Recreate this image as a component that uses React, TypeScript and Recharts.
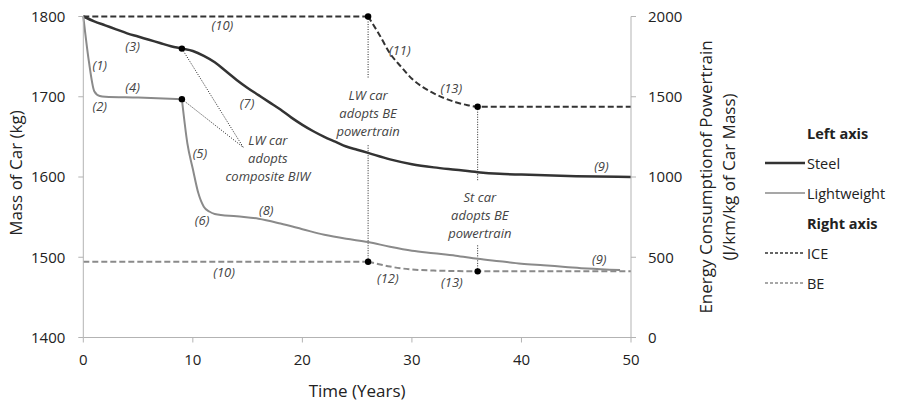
import React from 'react';
import { ComposedChart, Line, XAxis, YAxis, ReferenceLine, ReferenceDot, Label } from 'recharts';

// time axis (years) and the two value axes
const xTicks = [0, 10, 20, 30, 40, 50];
const massTicks = [1400, 1500, 1600, 1700, 1800];
const energyTicks = [0, 500, 1000, 1500, 2000];

// Steel car mass (kg)
const steelYears = [0, 1, 2, 3, 4, 5, 6, 7, 8, 9, 10, 11, 12, 13, 14, 15, 16, 17, 18, 19, 20, 21, 22, 23, 24, 25, 26, 28, 30, 32, 34, 36, 38, 40, 45, 50];
const steelMass = [1800, 1794, 1789, 1784, 1779, 1775, 1771, 1767, 1763, 1760, 1757, 1751, 1743, 1732, 1721, 1711, 1702, 1693, 1684, 1674, 1665, 1657, 1650, 1644, 1638, 1634, 1630, 1622, 1616, 1612, 1609, 1606, 1604, 1603, 1601, 1600];

// Lightweight car mass (kg), before and after the composite BIW step
const lwEarlyYears = [0, 0.5, 1, 1.5, 2, 5, 9];
const lwEarlyMass = [1800, 1745, 1707, 1701, 1700, 1699, 1697];
const lwLateYears = [9, 9.5, 10, 10.5, 11, 11.5, 12, 14, 16, 18, 20, 22, 24, 26, 28, 30, 32, 34, 36, 38, 40, 42, 44, 46, 49];
const lwLateMass = [1697, 1642, 1610, 1580, 1563, 1557, 1554, 1551, 1548, 1542, 1535, 1528, 1523, 1519, 1513, 1508, 1505, 1502, 1498, 1495, 1492, 1490, 1488, 1486, 1484];

// Powertrain energy consumption (J/km/kg)
const iceFlatYears = [0, 26];
const iceFlatEnergy = [2000, 2000];
const iceDropYears = [26, 27, 28, 29, 30, 31, 32, 33, 34, 35, 36, 50];
const iceDropEnergy = [2000, 1890, 1770, 1688, 1612, 1560, 1521, 1490, 1466, 1449, 1438, 1438];
const beFlatYears = [0, 26];
const beFlatEnergy = [472, 472];
const beDropYears = [26, 27, 28, 29, 30, 32, 34, 36, 50];
const beDropEnergy = [472, 457, 442, 431, 424, 417, 414, 412, 412];

// event markers
const massDots = [{ x: 9, y: 1760 }, { x: 9, y: 1697 }];
const energyDots = [{ x: 26, y: 2000 }, { x: 36, y: 1438 }, { x: 26, y: 472 }, { x: 36, y: 412 }];

const zip = (xs: number[], ys: number[]) => xs.map((x, i) => ({ x, y: ys[i] }));

// numbered notes, placed in data coordinates (left axis)
const notes = [
  { t: '(1)', x: 1.5, y: 1740 },
  { t: '(2)', x: 1.5, y: 1688 },
  { t: '(3)', x: 4.5, y: 1763 },
  { t: '(4)', x: 4.5, y: 1712 },
  { t: '(5)', x: 10.65, y: 1630 },
  { t: '(6)', x: 10.85, y: 1546 },
  { t: '(7)', x: 14.95, y: 1692 },
  { t: '(8)', x: 16.7, y: 1559 },
  { t: '(9)', x: 47.3, y: 1614 },
  { t: '(9)', x: 47.1, y: 1498 },
  { t: '(10)', x: 12.7, y: 1789 },
  { t: '(10)', x: 12.85, y: 1482 },
  { t: '(11)', x: 28.9, y: 1758 },
  { t: '(12)', x: 27.8, y: 1474 },
  { t: '(13)', x: 33.6, y: 1711 },
  { t: '(13)', x: 33.65, y: 1469 },
];

const callouts = [
  { lines: ['LW car', 'adopts', 'composite BIW'], x: 16.85, y: 1646 },
  { lines: ['LW car', 'adopts BE', 'powertrain'], x: 26, y: 1702 },
  { lines: ['St car', 'adopts BE', 'powertrain'], x: 36.2, y: 1575 },
];

const FONT = '"Open Sans", sans-serif';
const AXIS = '#b3b3b3';

const NoteShape = ({ cx, cy, text }: any) => (
  <text x={cx} y={cy} textAnchor="middle" dominantBaseline="central" fontSize={13} fontStyle="italic" fill="#444" fontFamily={FONT}>
    {text}
  </text>
);

const CalloutShape = ({ cx, cy, lines }: any) => (
  <text x={cx} y={cy} textAnchor="middle" dominantBaseline="central" fontSize={13} fontStyle="italic" fill="#444" fontFamily={FONT}>
    {lines.map((l: string, i: number) => (
      <tspan key={i} x={cx} dy={i === 0 ? 0 : 17.8}>{l}</tspan>
    ))}
  </text>
);

const DotShape = ({ cx, cy }: any) => <circle cx={cx} cy={cy} r={3.2} fill="#000" />;

const leftTitle = ({ viewBox }: any) => {
  const x = viewBox.x + 15;
  const y = viewBox.y + viewBox.height / 2 - 4;
  return (
    <text x={x} y={y} transform={`rotate(-90, ${x}, ${y})`} textAnchor="middle" dominantBaseline="central" fontSize={17} fill="#222" fontFamily={FONT}>
      Mass of Car (kg)
    </text>
  );
};

const rightTitle = ({ viewBox }: any) => {
  const y = viewBox.y + viewBox.height / 2;
  const x1 = viewBox.x + 74;
  const x2 = viewBox.x + 97;
  return (
    <g fontSize={17} fill="#222" fontFamily={FONT}>
      <text x={x1} y={y} transform={`rotate(-90, ${x1}, ${y})`} textAnchor="middle" dominantBaseline="central">
        Energy Consumptionof Powertrain
      </text>
      <text x={x2} y={y} transform={`rotate(-90, ${x2}, ${y})`} textAnchor="middle" dominantBaseline="central">
        (J/km/kg of Car Mass)
      </text>
    </g>
  );
};

const bottomTitle = ({ viewBox }: any) => (
  <text x={viewBox.x + viewBox.width / 2} y={viewBox.y + 52.5} textAnchor="middle" dominantBaseline="central" fontSize={17} fill="#222" fontFamily={FONT}>
    Time (Years)
  </text>
);

const legendItems = [
  { kind: 'head', label: 'Left axis' },
  { kind: 'line', label: 'Steel', color: '#333', width: 2.5, dash: undefined },
  { kind: 'line', label: 'Lightweight', color: '#8a8a8a', width: 1.5, dash: undefined },
  { kind: 'head', label: 'Right axis' },
  { kind: 'line', label: 'ICE', color: '#333', width: 1.5, dash: '3 2' },
  { kind: 'line', label: 'BE', color: '#8a8a8a', width: 1.5, dash: '3 2' },
];

const LegendBox = () => (
  <svg width={899} height={401} style={{ position: 'absolute', left: 0, top: 0, pointerEvents: 'none' }}>
    {legendItems.map((it, i) => {
      const y = 133 + i * 30;
      return (
        <g key={i} fontFamily={FONT} fontSize={14.5} fill="#222">
          {it.kind === 'line' && (
            <line x1={765} x2={805} y1={y} y2={y} stroke={it.color} strokeWidth={it.width} strokeDasharray={it.dash} />
          )}
          <text x={807} y={y} dominantBaseline="central" fontWeight={it.kind === 'head' ? 700 : 400}>
            {it.label}
          </text>
        </g>
      );
    })}
  </svg>
);

const dotted = { stroke: '#222', strokeWidth: 1, strokeDasharray: '1 1.5' };

export default function App() {
  return (
    <div style={{ position: 'absolute', left: 0, top: 0, width: 899, height: 401, background: '#fff' }}>
      <ComposedChart width={899} height={401} margin={{ top: 16.5, right: 188, bottom: 0, left: 0 }}>
        <XAxis
          type="number"
          dataKey="x"
          domain={[0, 50]}
          ticks={xTicks}
          height={63.5}
          stroke={AXIS}
          tickSize={5}
          tickMargin={12}
          tick={{ fill: '#222', fontSize: 15, fontFamily: FONT }}
        >
          <Label content={bottomTitle} />
        </XAxis>
        <YAxis
          yAxisId="left"
          type="number"
          domain={[1400, 1800]}
          ticks={massTicks}
          width={83.3}
          stroke={AXIS}
          tickSize={5}
          tickMargin={13}
          tick={{ fill: '#222', fontSize: 15, fontFamily: FONT }}
        >
          <Label content={leftTitle} />
        </YAxis>
        <YAxis
          yAxisId="right"
          orientation="right"
          type="number"
          domain={[0, 2000]}
          ticks={energyTicks}
          width={80}
          stroke={AXIS}
          tickSize={5}
          tickMargin={12}
          tick={{ fill: '#222', fontSize: 15, fontFamily: FONT }}
        >
          <Label content={rightTitle} />
        </YAxis>

        {/* callout leader lines */}
        <ReferenceLine yAxisId="left" segment={[{ x: 9, y: 1760 }, { x: 14.6, y: 1637 }]} {...dotted} />
        <ReferenceLine yAxisId="left" segment={[{ x: 9, y: 1697 }, { x: 14.6, y: 1637 }]} {...dotted} />
        <ReferenceLine yAxisId="right" segment={[{ x: 26, y: 2000 }, { x: 26, y: 1616 }]} {...dotted} />
        <ReferenceLine yAxisId="right" segment={[{ x: 26, y: 1198 }, { x: 26, y: 472 }]} {...dotted} />
        <ReferenceLine yAxisId="right" segment={[{ x: 36, y: 1438 }, { x: 36, y: 980 }]} {...dotted} />
        <ReferenceLine yAxisId="right" segment={[{ x: 36, y: 574 }, { x: 36, y: 412 }]} {...dotted} />

        <Line yAxisId="right" data={zip(iceFlatYears, iceFlatEnergy)} dataKey="y" type="linear" stroke="#333" strokeWidth={2} strokeDasharray="6 3" dot={false} activeDot={false} isAnimationActive={false} />
        <Line yAxisId="right" data={zip(iceDropYears, iceDropEnergy)} dataKey="y" type="monotone" stroke="#333" strokeWidth={2} strokeDasharray="6 3" dot={false} activeDot={false} isAnimationActive={false} />
        <Line yAxisId="right" data={zip(beFlatYears, beFlatEnergy)} dataKey="y" type="linear" stroke="#8a8a8a" strokeWidth={2} strokeDasharray="6 3" dot={false} activeDot={false} isAnimationActive={false} />
        <Line yAxisId="right" data={zip(beDropYears, beDropEnergy)} dataKey="y" type="monotone" stroke="#8a8a8a" strokeWidth={2} strokeDasharray="6 3" dot={false} activeDot={false} isAnimationActive={false} />

        <Line yAxisId="left" data={zip(steelYears, steelMass)} dataKey="y" type="monotone" stroke="#333" strokeWidth={2.5} dot={false} activeDot={false} isAnimationActive={false} />
        <Line yAxisId="left" data={zip(lwEarlyYears, lwEarlyMass)} dataKey="y" type="monotone" stroke="#8a8a8a" strokeWidth={2} dot={false} activeDot={false} isAnimationActive={false} />
        <Line yAxisId="left" data={zip(lwLateYears, lwLateMass)} dataKey="y" type="monotone" stroke="#8a8a8a" strokeWidth={2} dot={false} activeDot={false} isAnimationActive={false} />

        {massDots.map((d, i) => (
          <ReferenceDot key={'md' + i} yAxisId="left" x={d.x} y={d.y} shape={<DotShape />} />
        ))}
        {energyDots.map((d, i) => (
          <ReferenceDot key={'ed' + i} yAxisId="right" x={d.x} y={d.y} shape={<DotShape />} />
        ))}
        {notes.map((n, i) => (
          <ReferenceDot key={'n' + i} yAxisId="left" x={n.x} y={n.y} shape={<NoteShape text={n.t} />} />
        ))}
        {callouts.map((c, i) => (
          <ReferenceDot key={'c' + i} yAxisId="left" x={c.x} y={c.y} shape={<CalloutShape lines={c.lines} />} />
        ))}
      </ComposedChart>
      <LegendBox />
    </div>
  );
}
